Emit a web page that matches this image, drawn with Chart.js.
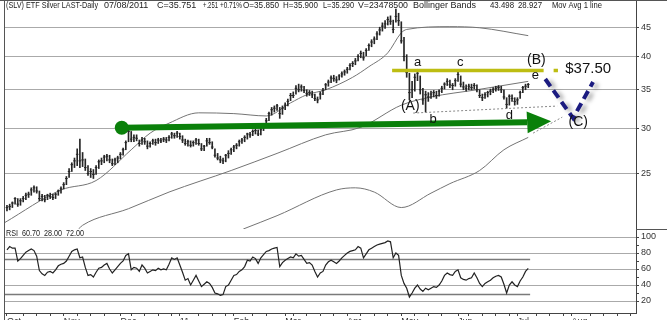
<!DOCTYPE html>
<html>
<head>
<meta charset="utf-8">
<title>(SLV) ETF Silver</title>
<script src="https://cdn.jsdelivr.net/npm/chart.js@4.4.1/dist/chart.umd.min.js"></script>
<style>
  html, body { margin: 0; padding: 0; background: #fff; }
  canvas { display: block; }
</style>
</head>
<body>
<canvas id="slvChart" width="667" height="320"></canvas>
<script>
// daily bars, one entry per trading day from Oct 1 2010 to Jul 8 2011
const highs = [
  22.0, 22.1, 22.3, 22.7, 22.6, 22.6, 22.8, 23.1, 23.2, 23.6, 23.8, 23.7, 23.3, 23.0, 22.9, 23.0, 23.1, 23.0, 23.1, 23.4, 23.7, // Oct
  24.1, 24.7, 25.5, 26.1, 26.6, 27.6, 28.7, 27.2, 26.5, 25.8, 25.5, 25.4, 25.8, 26.4, 26.6, 26.9, 27.0, 26.9, 26.5, 26.6, 26.8, // Nov
  27.2, 27.7, 28.5, 30.2, 29.6, 29.2, 29.2, 28.6, 28.9, 28.8, 28.5, 28.4, 28.7, 28.7, 28.8, 28.8, 28.9, 28.9, 29.1, 29.5, 29.4, 29.6, // Dec
  29.4, 29.1, 28.7, 28.6, 28.5, 28.5, 28.8, 28.7, 28.2, 28.0, 28.8, 28.8, 28.4, 27.6, 27.1, 26.8, 26.6, 27.0, 27.4, 27.7, // Jan
  28.0, 28.2, 28.6, 28.8, 29.1, 29.4, 29.5, 29.8, 29.9, 29.8, 30.0, 30.4, 31.2, 32.0, 32.6, 32.8, 33.0, 32.6, 32.8, // Feb
  33.2, 33.7, 34.5, 34.7, 35.6, 35.8, 35.7, 35.5, 35.0, 34.9, 34.8, 34.4, 34.0, 34.7, 35.2, 35.9, 36.4, 37.0, 37.1, 36.9, 37.2, 37.6, 37.9, // Mar
  38.3, 38.9, 39.2, 39.7, 40.3, 40.9, 40.7, 41.3, 42.1, 42.8, 43.3, 44.2, 45.0, 45.8, 46.2, 46.9, 47.1, 46.3, 48.4, 47.6, // Apr
  46.0, 43.2, 40.3, 37.4, 36.2, 37.3, 38.0, 37.0, 35.2, 34.8, 34.6, 34.8, 34.9, 34.8, 35.0, 35.5, 36.0, 36.6, 36.4, 35.9, 36.6, // May
  37.9, 37.0, 36.1, 35.7, 35.8, 35.8, 35.9, 35.7, 35.0, 34.4, 34.6, 34.8, 35.1, 35.3, 35.5, 35.6, 35.5, 35.0, 33.9, 34.3, 34.3, 33.9, // Jun
  33.9, 34.8, 35.5, 35.8, 35.9 // Jul
];
const lows = [
  21.5, 21.6, 21.8, 22.1, 21.9, 22.0, 22.3, 22.5, 22.7, 22.9, 23.2, 23.1, 22.4, 22.4, 22.3, 22.5, 22.6, 22.5, 22.6, 22.9, 23.1,
  23.5, 23.9, 24.6, 25.2, 25.6, 25.8, 25.6, 25.7, 25.3, 24.8, 24.6, 24.5, 24.9, 25.5, 25.9, 26.1, 26.3, 26.1, 25.8, 25.9, 26.1,
  26.5, 26.9, 27.5, 28.4, 28.4, 28.4, 28.5, 27.9, 28.1, 28.1, 27.6, 27.8, 28.1, 28.0, 28.2, 28.3, 28.4, 28.3, 28.5, 28.8, 28.8, 28.9,
  28.7, 28.3, 28.0, 27.9, 27.8, 27.9, 28.1, 28.0, 27.4, 27.4, 27.9, 28.1, 27.6, 26.7, 26.4, 26.1, 26.0, 26.2, 26.6, 27.0,
  27.3, 27.6, 27.9, 28.2, 28.4, 28.7, 28.9, 29.1, 29.3, 29.1, 29.2, 29.7, 30.2, 30.9, 31.6, 32.0, 32.2, 31.2, 31.7,
  32.3, 32.8, 33.5, 33.9, 34.4, 34.7, 34.8, 34.6, 34.1, 34.2, 33.9, 33.5, 33.2, 33.7, 34.3, 35.0, 35.5, 36.0, 36.2, 36.0, 36.4, 36.8, 37.1,
  37.4, 37.9, 38.4, 38.7, 39.3, 39.8, 39.4, 40.1, 41.0, 41.6, 42.1, 42.8, 43.6, 44.3, 44.8, 45.4, 45.5, 44.0, 45.9, 45.3,
  42.2, 39.3, 36.8, 33.6, 33.9, 34.8, 36.3, 34.4, 33.0, 32.0, 33.4, 33.8, 34.0, 33.8, 34.1, 34.6, 35.1, 35.6, 35.3, 35.0, 35.5,
  36.2, 35.4, 35.0, 34.8, 35.0, 35.0, 35.1, 34.7, 33.9, 33.5, 33.8, 34.0, 34.3, 34.6, 34.8, 34.9, 34.6, 33.7, 32.5, 32.9, 33.4, 32.9,
  33.0, 33.8, 34.6, 35.0, 35.29
];
const closes = [
  21.8, 21.9, 22.2, 22.6, 22.1, 22.4, 22.6, 22.9, 23.0, 23.4, 23.6, 23.3, 22.6, 22.8, 22.5, 22.9, 22.8, 22.7, 23.0, 23.3, 23.5,
  23.9, 24.5, 25.2, 25.9, 26.3, 27.0, 26.3, 26.4, 25.6, 25.0, 25.2, 24.9, 25.6, 26.2, 26.3, 26.7, 26.8, 26.4, 26.0, 26.4, 26.6,
  27.0, 27.5, 28.3, 29.6, 28.7, 28.9, 28.8, 28.2, 28.6, 28.4, 27.9, 28.2, 28.5, 28.3, 28.6, 28.5, 28.7, 28.6, 28.9, 29.3, 29.1, 29.4,
  29.0, 28.6, 28.2, 28.4, 28.0, 28.3, 28.6, 28.2, 27.6, 27.9, 28.5, 28.3, 27.8, 26.9, 26.6, 26.4, 26.3, 26.9, 27.1, 27.5,
  27.8, 28.0, 28.4, 28.6, 28.9, 29.3, 29.2, 29.6, 29.7, 29.3, 29.8, 30.2, 30.9, 31.8, 32.3, 32.5, 32.8, 31.8, 32.5,
  32.9, 33.4, 34.2, 34.2, 35.2, 35.0, 35.4, 34.9, 34.5, 34.6, 34.3, 33.8, 33.6, 34.4, 34.9, 35.7, 36.1, 36.7, 36.6, 36.4, 37.0, 37.3, 37.6,
  38.0, 38.6, 38.9, 39.3, 40.0, 40.5, 39.8, 41.0, 41.8, 42.4, 42.9, 43.8, 44.5, 45.2, 45.6, 46.4, 46.1, 44.6, 47.0, 46.2,
  42.6, 40.0, 37.5, 34.6, 35.0, 36.8, 37.4, 35.0, 33.6, 34.3, 34.0, 34.4, 34.6, 34.2, 34.8, 35.2, 35.8, 36.2, 35.7, 35.6, 36.3,
  37.2, 35.8, 35.4, 35.2, 35.5, 35.3, 35.6, 35.0, 34.2, 33.9, 34.3, 34.6, 34.8, 35.0, 35.2, 35.3, 35.0, 34.0, 33.0, 34.1, 33.8, 33.4,
  33.6, 34.6, 35.3, 35.5, 35.75
];
const rsiValues = [
  84, 88, 86, 86, 70, 73, 77, 81, 83, 85, 83, 76, 58, 54, 52, 56, 57, 55, 59, 64,
  66, 67, 70, 76, 82, 84, 85, 74, 75, 62, 52, 53, 50, 56, 61, 62, 65, 67, 60, 55,
  59, 63, 67, 70, 77, 79, 59, 62, 61, 57, 65, 61, 55, 57, 59, 58, 61, 59, 60, 59,
  66, 74, 72, 74, 65, 56, 46, 48, 40, 46, 52, 45, 38, 41, 44, 42, 37, 30, 29, 27,
  28, 38, 40, 46, 52, 53, 57, 59, 63, 71, 70, 75, 73, 67, 74, 78, 82, 83, 85, 86,
  87, 63, 68, 71, 73, 75, 74, 79, 76, 77, 72, 67, 68, 65, 57, 50, 55, 57, 65, 69,
  71, 69, 67, 70, 74, 77, 80, 82, 83, 84, 88, 86, 74, 79, 84, 86, 88, 90, 91, 92,
  93, 95, 94, 74, 80, 77, 52, 42, 36, 25, 30, 36, 40, 35, 32, 36, 34, 36, 38, 37,
  40, 45, 52, 55, 53, 52, 57, 59, 49, 47, 46, 48, 49, 55, 49, 42, 38, 42, 44, 46,
  49, 51, 52, 50, 41, 30, 40, 44, 40, 38, 45, 50, 57, 60.7
];

// Bollinger bands, read at a few bar positions
const upperBandIdx = [-1, 20, 33, 46, 53, 60, 71, 84, 96, 105, 111, 118, 128, 134, 141, 146, 148, 164, 175, 193];
const upperBand = [20.5, 23.4, 24.3, 27.5, 29.4, 30.6, 31.9, 31.8, 31.5, 33.2, 34.3, 35.0, 36.8, 38.4, 40.6, 44.0, 44.6, 45.1, 44.9, 43.5];
const midBandIdx = [26.5, 28, 45, 60, 83, 100, 118, 131, 146, 157, 174, 193];
const midBand = [20.0, 20.3, 21.7, 23.2, 25.3, 27.1, 29.2, 30.1, 32.9, 34.0, 35.0, 36.2];
const lowerBandIdx = [87.5, 100, 122, 129, 136, 146, 157, 164, 175, 184, 193];
const lowerBand = [20.0, 21.1, 23.4, 23.6, 23.2, 21.8, 23.1, 24.0, 25.3, 27.5, 28.9];

// axes
const monthIdx = [0, 21, 42, 64, 84, 103, 126, 146, 167, 189, 209];
const monthLabels = ["Oct", "Nov", "Dec", "11", "Feb", "Mar", "Apr", "May", "Jun", "Jul", "Aug"];
const priceTicks = [25, 30, 35, 40, 45];
const rsiTicks = [20, 30, 40, 50, 60, 70, 80, 90, 100];
const rsiLevels = [28, 72];

// hand-drawn markup, in bar index / price units
const arrowX = [42.5, 192.6, 201.5];
const arrowY = [30.05, 30.7, 30.85];
const resistanceX = [142.6, 198.7, 202.4, 204];
const resistance = 37.8;
const supportX = [150.4, 203.7];
const supportY = [31.87, 32.78];
const bandExtX = [194.8, 205.6];
const bandExtY = [29.4, 31.35];
const waveX = [199.3, 209.6, 217];
const waveY = [36.55, 31.23, 36.1];
const labelText = ["a", "(A)", "b", "c", "d", "(B)", "e", "$37.50", "(C)"];
const labelX = [152, 149.3, 157.8, 167.8, 186, 196, 195.6, 206.7, 211.5];
const labelY = [38.5, 32.2, 30.6, 38.5, 31.1, 38.8, 36.55, 37.5, 30.24];

const FONT = 'Arial, "Liberation Sans", sans-serif';
Chart.defaults.font.family = FONT;
Chart.defaults.font.size = 9;
Chart.defaults.color = "#333";

const pts = (xs, ys) => xs.map((x, k) => ({ x: x, y: ys[k] }));
const lastIdx = closes.length - 1;
const xMin = -1.1, xMax = 232.9;

const noPad = (s) => { s.paddingTop = 0; s.paddingBottom = 0; s.paddingLeft = 0; s.paddingRight = 0; };

const overlay = {
  id: "overlay",
  beforeDatasetDraw(chart, args) {
    if (chart.data.datasets[args.index].label === "wave") {
      const c = chart.ctx;
      c.save();
      c.shadowColor = "rgba(0,0,0,0.35)";
      c.shadowBlur = 4;
      c.shadowOffsetX = 4;
      c.shadowOffsetY = 2;
    }
  },
  afterDatasetDraw(chart, args) {
    if (chart.data.datasets[args.index].label === "wave") chart.ctx.restore();
  },
  afterDatasetsDraw(chart) {
    const c = chart.ctx, xs = chart.scales.x, ys = chart.scales.y;
    // arrow head on the green trend line
    const bx = xs.getPixelForValue(arrowX[1]), by = ys.getPixelForValue(arrowY[1]);
    const tx = xs.getPixelForValue(arrowX[2]), ty = ys.getPixelForValue(arrowY[2]);
    const ang = Math.atan2(ty - by, tx - bx), hw = 11;
    c.save();
    c.fillStyle = "#0a800a";
    c.beginPath();
    c.moveTo(tx, ty);
    c.lineTo(bx - Math.sin(ang) * hw, by + Math.cos(ang) * hw);
    c.lineTo(bx + Math.sin(ang) * hw, by - Math.cos(ang) * hw);
    c.closePath();
    c.fill();
    // wave labels
    c.fillStyle = "#111";
    c.textBaseline = "alphabetic";
    labelText.forEach((t, k) => {
      const big = t.startsWith("$");
      const paren = t.startsWith("(");
      c.font = (big ? 15 : paren ? 14 : 13) + "px " + FONT;
      c.textAlign = big ? "left" : "center";
      c.fillText(t, xs.getPixelForValue(labelX[k]), ys.getPixelForValue(labelY[k]));
    });
    c.restore();
  },
  afterDraw(chart) {
    const c = chart.ctx, area = chart.chartArea, rsi = chart.scales.rsi;
    c.save();
    c.strokeStyle = "#555";
    c.lineWidth = 1;
    c.beginPath();
    c.moveTo(0, 0.5); c.lineTo(chart.width, 0.5);
    c.moveTo(area.left + 0.5, 0); c.lineTo(area.left + 0.5, chart.height);
    c.moveTo(area.right, Math.round(rsi.top) + 0.5); c.lineTo(chart.width, Math.round(rsi.top) + 0.5);
    c.stroke();
    // header line
    c.fillStyle = "#222";
    c.textBaseline = "middle";
    c.textAlign = "left";
    c.font = "9px " + FONT;
    const header = [
      ["(SLV) ETF Silver LAST-Daily", 6, 92], ["07/08/2011", 104, 49], ["C=35.751", 157, 44],
      ["+.251", 203, 15], ["+0.71%", 220, 22], ["O=35.850", 243, 36], ["H=35.900", 283, 35],
      ["L=35.290", 323, 31], ["V=23478500", 358, 50], ["Bollinger Bands", 413, 67],
      ["43.498", 490, 24], ["28.927", 518, 24], ["Mov Avg 1 line", 552, 50]
    ];
    header.forEach(([t, x, w]) => c.fillText(t, x, 6, w));
    c.font = "8.5px " + FONT;
    c.fillText("RSI  60.70  28.00  72.00", 6, Math.round(rsi.top) + 5, 78);
    c.restore();
  }
};

new Chart(document.getElementById("slvChart"), {
  type: "bar",
  data: {
    datasets: [
      {
        label: "wave", type: "line", data: pts(waveX, waveY), yAxisID: "y",
        borderColor: "#1b1b80", borderWidth: 4, borderDash: [9, 5], pointRadius: 0, order: 0
      },
      {
        label: "trend", type: "line", data: pts(arrowX.slice(0, 2), arrowY.slice(0, 2)), yAxisID: "y",
        borderColor: "#0a800a", borderWidth: 6, pointRadius: [7, 0], pointBackgroundColor: "#0a800a",
        pointBorderWidth: 0, order: 1
      },
      {
        label: "resistance", type: "line", yAxisID: "y", spanGaps: false,
        data: [
          { x: resistanceX[0], y: resistance }, { x: resistanceX[1], y: resistance },
          { x: (resistanceX[1] + resistanceX[2]) / 2, y: null },
          { x: resistanceX[2], y: resistance }, { x: resistanceX[3], y: resistance }
        ],
        borderColor: "#bdbd12", borderWidth: 3.5, pointRadius: 0, order: 1
      },
      {
        label: "support", type: "line", data: pts(supportX, supportY), yAxisID: "y",
        borderColor: "#888", borderWidth: 1, borderDash: [2, 2], pointRadius: 0, order: 2
      },
      {
        label: "bandExt", type: "line", data: pts(bandExtX, bandExtY), yAxisID: "y",
        borderColor: "#888", borderWidth: 1, borderDash: [2, 2], pointRadius: 0, order: 2
      },
      {
        label: "range", type: "bar", yAxisID: "y",
        data: closes.map((_, i) => ({ x: i, y: [lows[i], highs[i]] })),
        backgroundColor: "#262626", barThickness: 1, borderWidth: 0, grouped: false, order: 3
      },
      {
        label: "close", type: "line", yAxisID: "y", showLine: false,
        data: closes.map((v, i) => ({ x: i, y: v })),
        pointStyle: "line", pointRadius: 1.3, pointBorderColor: "#262626", pointBorderWidth: 1, order: 3
      },
      {
        label: "upper", type: "line", yAxisID: "y", data: pts(upperBandIdx, upperBand),
        borderColor: "#747474", borderWidth: 1, pointRadius: 0, cubicInterpolationMode: "monotone", order: 4
      },
      {
        label: "middle", type: "line", yAxisID: "y", data: pts(midBandIdx, midBand),
        borderColor: "#747474", borderWidth: 1, pointRadius: 0, cubicInterpolationMode: "monotone", order: 4
      },
      {
        label: "lower", type: "line", yAxisID: "y", data: pts(lowerBandIdx, lowerBand),
        borderColor: "#747474", borderWidth: 1, pointRadius: 0, cubicInterpolationMode: "monotone", order: 4
      },
      {
        label: "rsi", type: "line", yAxisID: "rsi", data: rsiValues.map((v, i) => ({ x: i, y: v })),
        borderColor: "#222", borderWidth: 1.2, pointRadius: 0, order: 3
      },
      ...rsiLevels.map((lvl) => ({
        label: "rsi " + lvl, type: "line", yAxisID: "rsi",
        data: [{ x: xMin, y: lvl }, { x: lastIdx + 0.7, y: lvl }],
        borderColor: "#7a7a7a", borderWidth: 1.5, pointRadius: 0, order: 4
      }))
    ]
  },
  options: {
    responsive: false,
    animation: false,
    events: [],
    layout: { autoPadding: false, padding: { left: 4, top: 1, right: 0, bottom: 0 } },
    plugins: { legend: { display: false }, tooltip: { enabled: false }, title: { display: false } },
    scales: {
      x: {
        type: "linear", min: xMin, max: xMax, bounds: "data", offset: false,
        grid: { drawOnChartArea: false, offset: false, tickLength: 3, color: "#444" },
        border: { display: true, color: "#444" },
        ticks: {
          autoSkip: false, maxRotation: 0, minRotation: 0, align: "start", padding: 0,
          font: { size: 9 },
          callback: (v) => { const k = monthIdx.indexOf(v); return k >= 0 ? monthLabels[k] : ""; }
        },
        afterBuildTicks: (s) => {
          const vals = monthIdx.slice();
          for (let v = 6; v < 232; v += 5) {
            if (monthIdx.every((m) => Math.abs(m - v) > 2)) vals.push(v);
          }
          vals.sort((a, b) => a - b);
          s.ticks = vals.map((v) => ({ value: v }));
        },
        afterFit: (s) => { s.height = 7; noPad(s); }
      },
      y: {
        type: "logarithmic", position: "right", stack: "panels", stackWeight: 228,
        min: 20, max: 50, bounds: "data",
        grid: { color: "#aaa", borderDash: [1, 12], tickLength: 3, tickColor: "#444", tickBorderDash: [] },
        border: { display: true, color: "#444" },
        ticks: { autoSkip: false, padding: 2, font: { size: 9 }, callback: (v) => String(v) },
        afterBuildTicks: (s) => { s.ticks = priceTicks.map((v) => ({ value: v })); },
        afterFit: (s) => { s.width = 31; noPad(s); }
      },
      rsi: {
        type: "linear", position: "right", stack: "panels", stackWeight: 84,
        min: 5, max: 110, bounds: "data",
        grid: {
          color: (c) => (c.tick && c.tick.value % 20 === 0 ? "#aaa" : "rgba(0,0,0,0)"),
          borderDash: [1, 12], tickLength: 3, tickColor: "#444", tickBorderDash: []
        },
        border: { display: true, color: "#444" },
        ticks: { autoSkip: false, padding: 2, font: { size: 9 }, callback: (v) => (v % 20 === 0 ? String(v) : "") },
        afterBuildTicks: (s) => { s.ticks = rsiTicks.map((v) => ({ value: v })); },
        afterFit: (s) => { s.width = 31; noPad(s); }
      }
    }
  },
  plugins: [overlay]
});
</script>
</body>
</html>
